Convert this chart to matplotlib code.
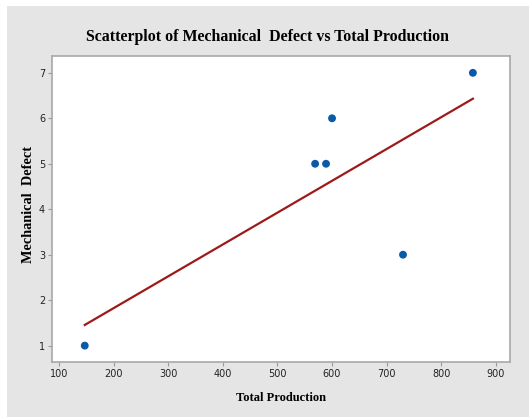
import numpy as np
import matplotlib.pyplot as plt
from matplotlib.patches import Rectangle

total_production = [147, 569, 589, 600, 730, 858]
mechanical_defect = [1, 5, 5, 6, 3, 7]
x_ticks = [100, 200, 300, 400, 500, 600, 700, 800, 900]
y_ticks = [1, 2, 3, 4, 5, 6, 7]

W, H = 529, 417
fig = plt.figure(figsize=(W / 100, H / 100), dpi=100)
fig.patch.set_facecolor('white')
fig.patches.append(Rectangle((7 / W, 0), 1 - 7 / W, 1 - 6 / H,
                             transform=fig.transFigure, facecolor='#e5e5e5',
                             edgecolor='none', zorder=-5))

ax = fig.add_axes([52 / W, 1 - 362 / H, (510 - 52) / W, (362 - 56) / H])
ax.set_facecolor('white')

# fitted regression line
slope, intercept = np.polyfit(total_production, mechanical_defect, 1)
xs = np.array([min(total_production), max(total_production)])
ax.plot(xs, slope * xs + intercept, color='#9e1a1a', lw=1.6, zorder=2)

ax.scatter(total_production, mechanical_defect, s=32, color='#0a5aa8',
           edgecolors='none', zorder=3)

ax.set_xlim(87, 926)
ax.set_ylim(0.64, 7.37)
ax.set_xticks(x_ticks)
ax.set_yticks(y_ticks)
ax.tick_params(colors='#9a9a9a', labelcolor='#222222', labelsize=7,
               length=3, width=0.8, pad=2)

for s in ax.spines.values():
    s.set_color('#a8a8a8')
    s.set_linewidth(1.2)

serif = {'family': 'Liberation Serif', 'weight': 'bold'}
fig.text(267 / W, 1 - 37 / H,
         'Scatterplot of Mechanical  Defect vs Total Production',
         ha='center', va='center', fontsize=11.4, **serif)
fig.text(281 / W, 1 - 398 / H, 'Total Production',
         ha='center', va='center', fontsize=9, **serif)
fig.text(29 / W, 1 - 204 / H, 'Mechanical  Defect', rotation=90,
         ha='center', va='center', fontsize=10.3, **serif)

fig.savefig('out.png', dpi=100)
